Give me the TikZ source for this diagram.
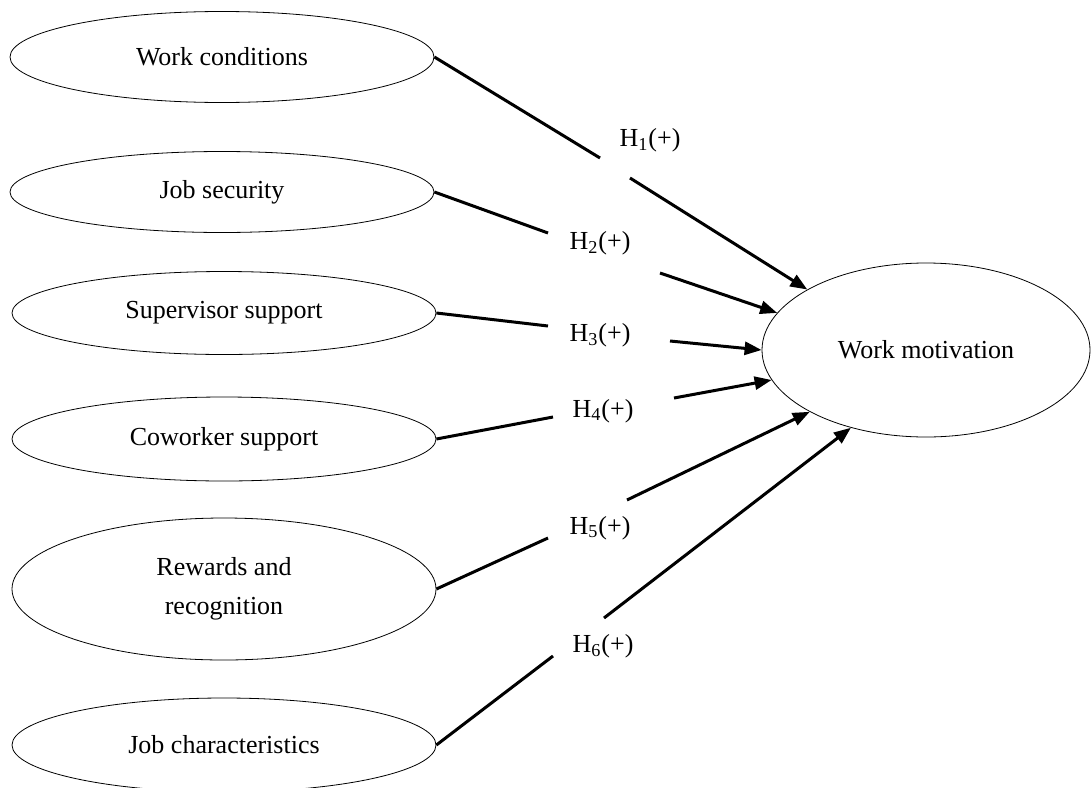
\documentclass[tikz,border=0pt]{standalone}
\usepackage{fontspec}
\setmainfont{Liberation Serif}
\usetikzlibrary{shapes.geometric,arrows.meta}
\begin{document}
\begin{tikzpicture}[x=0.5pt,y=-0.5pt]
\tikzstyle{factor} = [ellipse, draw=black, thin, minimum width=212pt, inner sep=0pt, align=center, font=\fontsize{13}{19.5}\selectfont]
\tikzstyle{outcome} = [ellipse, draw=black, thin, minimum width=164pt, minimum height=87pt, inner sep=0pt, font=\fontsize{13}{19.5}\selectfont]
\tikzstyle{hyp} = [inner sep=1pt, font=\fontsize{13}{15}\selectfont]
\tikzstyle{line} = [line width=1.5pt]
\tikzstyle{arrow} = [line width=1.5pt, -{Triangle[length=8.5pt,width=6.5pt]}]
%
\clip (0,0) rectangle (1091,787);
%
\node (wc) [factor, minimum height=45.5pt] at (222,57) {Work conditions};
\node (js) [factor, minimum height=40.5pt] at (222,192) {Job security};
\node (ss) [factor, minimum height=41.5pt] at (224,313) {Supervisor support};
\node (cs) [factor, minimum height=42pt] at (224,439) {Coworker support};
\node (rr) [factor, minimum height=71pt] at (224,589) {Rewards and\\recognition};
\node (jc) [factor, minimum height=47pt] at (224,745) {Job characteristics};
\node (wm) [outcome] at (926,350) {Work motivation};
%
\node (h1) [hyp] at (650,140) {H\textsubscript{1}(+)};
\node (h2) [hyp] at (600,243) {H\textsubscript{2}(+)};
\node (h3) [hyp] at (600,335) {H\textsubscript{3}(+)};
\node (h4) [hyp] at (603,411) {H\textsubscript{4}(+)};
\node (h5) [hyp] at (600,528) {H\textsubscript{5}(+)};
\node (h6) [hyp] at (603,646) {H\textsubscript{6}(+)};
%
\coordinate (g1a) at (600,158);
\coordinate (g1b) at (630,178);
\coordinate (g2a) at (548,233);
\coordinate (g2b) at (660,273);
\coordinate (g3a) at (548,326);
\coordinate (g3b) at (670,341);
\coordinate (g4a) at (553,417);
\coordinate (g4b) at (674,398);
\coordinate (g5a) at (548,538);
\coordinate (g5b) at (627,500);
\coordinate (g6a) at (553,656);
\coordinate (g6b) at (604,618);
%
\draw [line] (wc.east) -- (g1a);
\draw [arrow] (g1b) -- (wm.153.4);
\draw [line] (js.east) -- (g2a);
\draw [arrow] (g2b) -- (wm.166.9);
\draw [line] (ss.east) -- (g3a);
\draw [arrow] (g3b) -- (wm.180.7);
\draw [line] (cs.east) -- (g4a);
\draw [arrow] (g4b) -- (wm.191.5);
\draw [line] (rr.east) -- (g5a);
\draw [arrow] (g5b) -- (wm.208.3);
\draw [line] (jc.east) -- (g6a);
\draw [arrow] (g6b) -- (wm.226.9);
\end{tikzpicture}
\end{document}
